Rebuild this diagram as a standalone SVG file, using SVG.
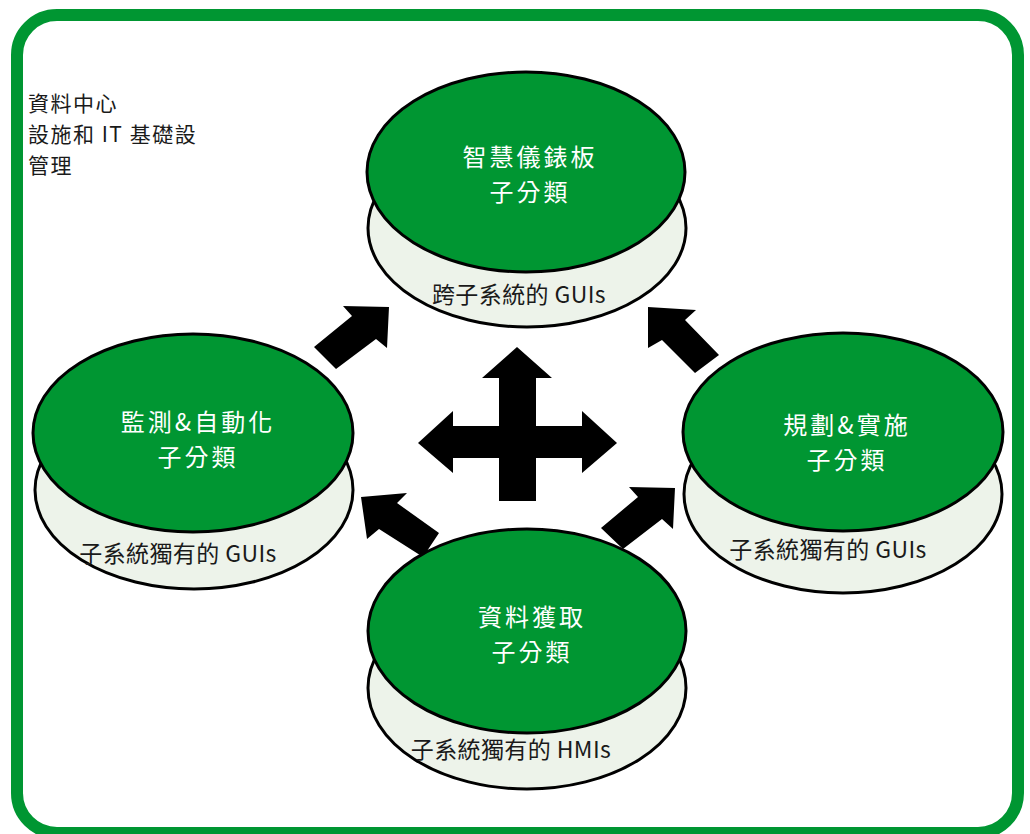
<svg xmlns="http://www.w3.org/2000/svg" width="1030" height="834" viewBox="0 0 1030 834">
<style>
.base{fill:#EDF3EA;stroke:#000;stroke-width:3}
.top{fill:#009632;stroke:#000;stroke-width:3}
.t{font-family:"Noto Sans CJK TC","Noto Sans",sans-serif;font-size:24px;letter-spacing:3px;fill:#fff;text-anchor:middle}
.l{font-family:"Noto Sans CJK TC","Noto Sans",sans-serif;font-size:23px;letter-spacing:0.4px;fill:#1a1a1a;text-anchor:middle}
.h{font-family:"Noto Sans CJK TC","Noto Sans",sans-serif;font-size:21px;letter-spacing:1.5px;fill:#1a1a1a}
.arr{fill:#000}
</style>
<rect x="0" y="0" width="1030" height="834" fill="#fff"/>
<rect id="frame" x="17" y="15" width="1001" height="818" rx="40" fill="#fff" stroke="#009632" stroke-width="12"/>
<g id="title">
<text class="h" x="28" y="111">資料中心</text>
<text class="h" x="28" y="142">設施和 IT 基礎設</text>
<text class="h" x="28" y="173">管理</text>
</g>
<g id="connectors">
<polygon class="arr" points="499,378 482,378 517,347 552,378 536,378 536,426 582,426 582,411 617,443 582,473 582,458 536,458 536,501 499,501 499,458 453,458 453,473 418,443 453,411 453,426 499,426"/>
<polygon class="arr" points="314,347 352,316 343,306 389,307 387,348 376,339 336,369"/>
<polygon class="arr" points="719,355 685,320 696,310 648,307 648,348 662,340 695,373"/>
<polygon class="arr" points="439,533 397,503 407,493 361,497 367,539 379,529 423,557"/>
<polygon class="arr" points="601,528 638,497 629,487 675,488 673,529 662,519 623,549"/>
</g>
<g id="node-dashboard">
<ellipse class="base" cx="527" cy="228" rx="159" ry="99"/>
<ellipse class="top" cx="526" cy="172" rx="159" ry="100"/>
<text class="t" x="530" y="166">智慧儀錶板</text>
<text class="t" x="530" y="201">子分類</text>
<text class="l" x="519" y="303">跨子系統的 GUIs</text>
</g>
<g id="node-monitoring">
<ellipse class="base" cx="194" cy="490" rx="159" ry="99"/>
<ellipse class="top" cx="193" cy="433" rx="160" ry="99"/>
<text class="t" x="198" y="431">監測&amp;自動化</text>
<text class="t" x="198" y="466">子分類</text>
<text class="l" x="178" y="562">子系統獨有的 GUIs</text>
</g>
<g id="node-planning">
<ellipse class="base" cx="843" cy="494" rx="159" ry="99"/>
<ellipse class="top" cx="843" cy="432" rx="160" ry="99"/>
<text class="t" x="847" y="434">規劃&amp;實施</text>
<text class="t" x="847" y="469">子分類</text>
<text class="l" x="828" y="558">子系統獨有的 GUIs</text>
</g>
<g id="node-acquisition">
<ellipse class="base" cx="527" cy="688" rx="159" ry="101"/>
<ellipse class="top" cx="527" cy="631" rx="159" ry="102"/>
<text class="t" x="532" y="626">資料獲取</text>
<text class="t" x="532" y="661">子分類</text>
<text class="l" x="511" y="758">子系統獨有的 HMIs</text>
</g>
</svg>
